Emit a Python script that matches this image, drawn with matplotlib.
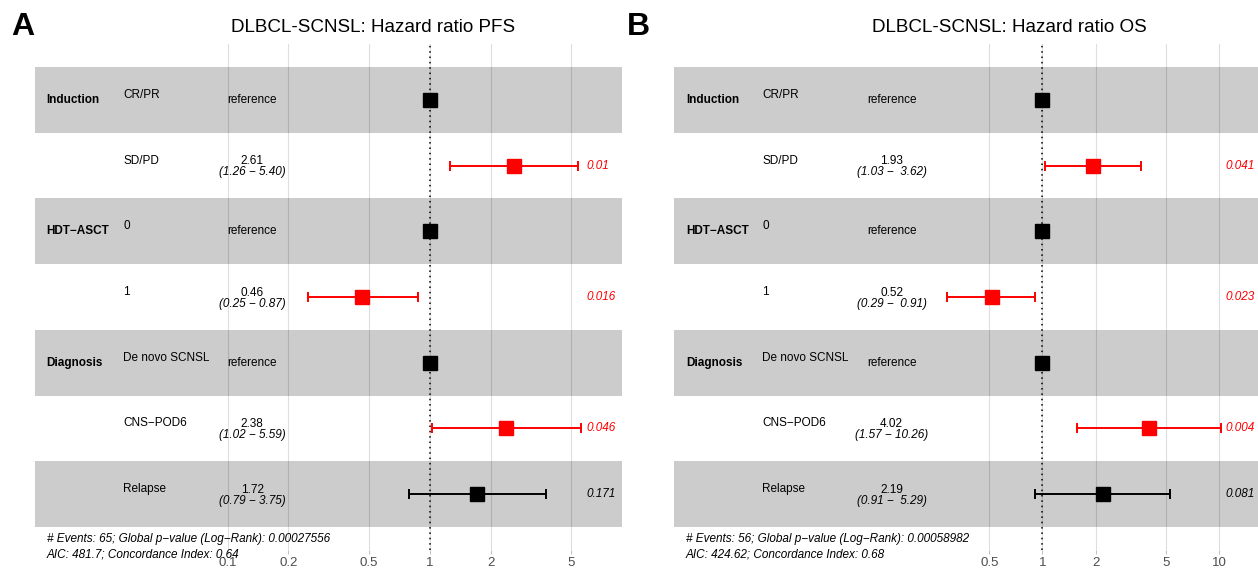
import numpy as np
import matplotlib
matplotlib.use("Agg")
import matplotlib.pyplot as plt

plt.rcParams['font.family'] = ['Liberation Sans', 'DejaVu Sans']

W, H = 1258, 568
NAN = np.nan
MINUS = "\u2212"

# ---------------- data ----------------
variables = ["Induction", "", "HDT" + MINUS + "ASCT", "", "Diagnosis", "", ""]
levels = ["CR/PR", "SD/PD", "0", "1", "De novo SCNSL", "CNS" + MINUS + "POD6", "Relapse"]

pfs_hr = [1.0, 2.61, 1.0, 0.46, 1.0, 2.38, 1.72]
pfs_lo = [NAN, 1.26, NAN, 0.25, NAN, 1.02, 0.79]
pfs_hi = [NAN, 5.40, NAN, 0.87, NAN, 5.59, 3.75]
pfs_p = ["", "0.01", "", "0.016", "", "0.046", "0.171"]
pfs_ticks = [0.1, 0.2, 0.5, 1, 2, 5]
pfs_title = "DLBCL-SCNSL: Hazard ratio PFS"
pfs_note = ("# Events: 65; Global p" + MINUS + "value (Log" + MINUS + "Rank): 0.00027556 \n"
            "AIC: 481.7; Concordance Index: 0.64")

os_hr = [1.0, 1.93, 1.0, 0.52, 1.0, 4.02, 2.19]
os_lo = [NAN, 1.03, NAN, 0.29, NAN, 1.57, 0.91]
os_hi = [NAN, 3.62, NAN, 0.91, NAN, 10.26, 5.29]
os_p = ["", "0.041", "", "0.023", "", "0.004", "0.081"]
os_ticks = [0.5, 1, 2, 5, 10]
os_title = "DLBCL-SCNSL: Hazard ratio OS"
os_note = ("# Events: 56; Global p" + MINUS + "value (Log" + MINUS + "Rank): 0.00058982 \n"
           "AIC: 424.62; Concordance Index: 0.68")

# ---------------- style ----------------
ANN = 8.5
RED = "#FF0000"
cpos = (0.02, 0.15, 0.37)
PX = 0.72  # points per pixel at 100 dpi

fig = plt.figure(figsize=(W / 100, H / 100), dpi=100)


def fmt_ci(lo, hi):
    los = ["%.2f" % v for v in lo if not np.isnan(v)]
    his = ["%.2f" % v for v in hi if not np.isnan(v)]
    wl = max(len(s) for s in los)
    wh = max(len(s) for s in his)
    out = []
    for a, b in zip(lo, hi):
        if np.isnan(a):
            out.append("")
        else:
            out.append("(" + ("%.2f" % a).rjust(wl) + " " + MINUS + " " + ("%.2f" % b).rjust(wh) + ")")
    return out


def panel(band_l, band_r, hr, lo, hi, pv, ticks, title, title_x, note, letter, letter_x):
    n = len(hr)
    llo = np.log(np.nanmin(lo))
    lhi = np.log(np.nanmax(hi))
    d = lhi - llo
    r0 = llo - d
    r1 = lhi + 0.15 * d
    wd = r1 - r0
    ex = 0.02 * wd
    pxw = band_r - band_l
    ax_l = band_l - 0.02 * pxw
    ax_r = band_r + 0.02 * pxw
    top, bot = 44, 550
    ax = fig.add_axes([ax_l / W, 1 - bot / H, (ax_r - ax_l) / W, (bot - top) / H])
    ax.set_xscale('log')
    ax.set_xlim(np.exp(r0 - ex), np.exp(r1 + ex))
    ax.set_ylim(0.15, n + 0.85)
    for s in ax.spines.values():
        s.set_visible(False)
    ax.set_xticks(ticks)
    ax.set_xticklabels(["%g" % t for t in ticks])
    ax.xaxis.set_minor_locator(matplotlib.ticker.NullLocator())
    ax.set_yticks([])
    ax.tick_params(axis='x', length=3, width=0.6, color='#B3B3B3', labelcolor='#4D4D4D',
                   labelsize=9.5, pad=2)
    ax.grid(True, axis='x', color='#DEDEDE', lw=0.8, zorder=0)
    ax.set_axisbelow(True)

    ys = [n - i for i in range(n)]
    for i, y in enumerate(ys):
        if i % 2 == 0:
            ax.add_patch(plt.Rectangle((np.exp(r0), y - 0.5), np.exp(r1) - np.exp(r0), 1,
                                       facecolor='black', alpha=0.2, lw=0, zorder=1))

    ci = fmt_ci(lo, hi)
    xv = np.exp(r0 + cpos[0] * wd)
    xl = np.exp(r0 + cpos[1] * wd)
    xc = np.exp(r0 + cpos[2] * wd)
    xs = np.exp(lhi)
    for i, y in enumerate(ys):
        sig = pv[i] != "" and float(pv[i]) < 0.05
        col = RED if sig else 'black'
        if np.isnan(lo[i]):
            ax.plot([hr[i]], [y], marker='s', ms=10.5, color='black', lw=0, zorder=4)
            ax.annotate("reference", (xc, y), ha='center', va='center', fontsize=ANN,
                        annotation_clip=False)
        else:
            ax.plot([hr[i]], [y], marker='s', ms=10.5, color=col, lw=0, zorder=4)
            ax.errorbar([hr[i]], [y], xerr=[[hr[i] - lo[i]], [hi[i] - hr[i]]], fmt='none',
                        ecolor=col, elinewidth=1.4, capsize=3.6, capthick=1.4, zorder=5)
            ax.annotate("%.2f" % hr[i], (xc, y), xytext=(0, 1.5 * PX), textcoords='offset points',
                        ha='center', va='baseline', fontsize=ANN)
            ax.annotate(ci[i], (xc, y), xytext=(0, -9.5 * PX), textcoords='offset points',
                        ha='center', va='baseline', fontsize=ANN, style='italic')
            ax.annotate(pv[i], (xs, y), xytext=(5 * PX, 0), textcoords='offset points',
                        ha='left', va='center', fontsize=ANN, style='italic', color=col,
                        annotation_clip=False)
        if variables[i]:
            ax.annotate(variables[i], (xv, y), ha='left', va='center', fontsize=ANN,
                        weight='bold')
        ax.annotate(levels[i], (xl, y), xytext=(0, 2 * PX), textcoords='offset points',
                    ha='left', va='baseline', fontsize=ANN)
    ax.axvline(1, color='black', lw=1.1, ls=(0, (1, 2.5)), zorder=6)
    ax.annotate(note, (xv, 0.5), xytext=(0, -4), textcoords='offset points', ha='left',
                va='top', fontsize=ANN, style='italic', linespacing=1.4,
                annotation_clip=False, zorder=7)
    fig.text(title_x / W, 1 - 32 / H, title, ha='center', va='baseline', fontsize=13.6)
    fig.text(letter_x / W, 1 - 35 / H, letter, ha='left', va='baseline', fontsize=23,
             weight='bold')
    return ax


panel(35, 622, pfs_hr, pfs_lo, pfs_hi, pfs_p, pfs_ticks, pfs_title, 373, pfs_note, "A", 11)
panel(674, 1262, os_hr, os_lo, os_hi, os_p, os_ticks, os_title, 1009, os_note, "B", 627)

fig.savefig("out.png", dpi=100)
